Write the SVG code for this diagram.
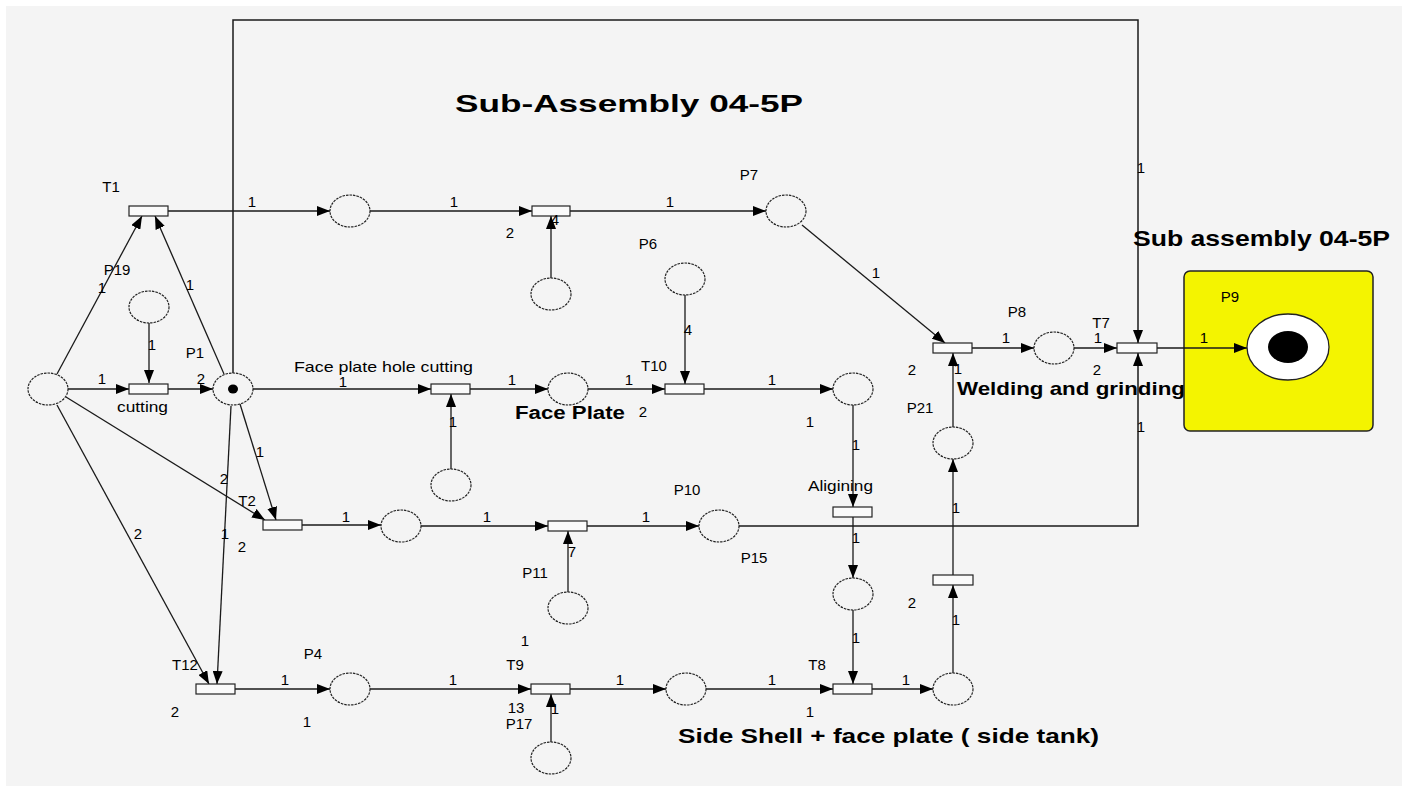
<svg xmlns="http://www.w3.org/2000/svg" width="1411" height="786" viewBox="0 0 1411 786">
<defs>
<marker id="ah" markerUnits="userSpaceOnUse" markerWidth="13" markerHeight="10" refX="13" refY="5" orient="auto"><path d="M0,0 L13,5 L0,10 z" fill="#000"/></marker>
<style>
.pl{fill:none;stroke:#222;stroke-width:1.2;stroke-dasharray:2.5 1}
.tr{fill:#fafafa;stroke:#222;stroke-width:1.2}
.arc{fill:none;stroke:#1a1a1a;stroke-width:1.3;marker-end:url(#ah)}
.ln{fill:none;stroke:#1a1a1a;stroke-width:1.5}
text{font-family:"Liberation Sans",Arial,sans-serif;fill:#000}
.s{font-size:15px;text-anchor:middle}
.r{font-size:15px}
.b{font-weight:bold}
.tok{fill:#000}
</style>
</defs>
<rect width="1411" height="786" fill="#fff"/>
<rect x="6" y="6" width="1396" height="780" fill="#f4f4f4"/>

<g id="output-box"><rect x="1184" y="271" width="189" height="160" rx="6" fill="#f4f400" stroke="#222" stroke-width="1.5"/></g>

<g id="connectors">
<path class="ln" d="M233,373 V20 H1138 V343" marker-end="url(#ah)"/>
<path class="ln" d="M739,526 H1138 V353" marker-end="url(#ah)"/>
<path class="arc" d="M168,211 H330"/>
<path class="arc" d="M370,211 H532"/>
<path class="arc" d="M570,211 H766"/>
<path class="arc" d="M68,389 H129"/>
<path class="arc" d="M168,389 H213"/>
<path class="arc" d="M253,389 H431"/>
<path class="arc" d="M470,389 H548"/>
<path class="arc" d="M588,389 H665"/>
<path class="arc" d="M704,389 H833"/>
<path class="arc" d="M302,525 H381"/>
<path class="arc" d="M421,526 H548"/>
<path class="arc" d="M587,526 H699"/>
<path class="arc" d="M235,689 H330"/>
<path class="arc" d="M370,689 H531"/>
<path class="arc" d="M570,689 H666"/>
<path class="arc" d="M706,689 H833"/>
<path class="arc" d="M872,689 H933"/>
<path class="arc" d="M972,348 H1034"/>
<path class="arc" d="M1074,348 H1117"/>
<path class="arc" d="M1157,348 H1247"/>
<path class="arc" d="M149,323 V383"/>
<path class="arc" d="M551,278 V216"/>
<path class="arc" d="M685,295 V384"/>
<path class="arc" d="M451,469 V394"/>
<path class="arc" d="M853,405 V507"/>
<path class="arc" d="M853,517 V578"/>
<path class="arc" d="M853,610 V684"/>
<path class="arc" d="M568,592 V531"/>
<path class="arc" d="M551,742 V694"/>
<path class="arc" d="M953,673 V585"/>
<path class="arc" d="M953,575 V459"/>
<path class="arc" d="M953,427 V353"/>
<path class="arc" d="M57,374 L142,216"/>
<path class="arc" d="M224,374 L155,216"/>
<path class="arc" d="M240,404 L276,520"/>
<path class="arc" d="M66,397 L265,520"/>
<path class="arc" d="M57,405 L209,684"/>
<path class="arc" d="M231,406 L217,684"/>
<path class="arc" d="M802,225 L945,343"/>
</g>

<g id="P19"><ellipse class="pl" cx="48" cy="389" rx="20" ry="16"/></g>
<g id="P_cut_res"><ellipse class="pl" cx="149" cy="307" rx="20" ry="16"/></g>
<g id="P1"><ellipse class="pl" cx="233" cy="389" rx="20" ry="16"/><ellipse class="tok" cx="233" cy="389" rx="5" ry="4.5"/></g>
<g id="P_r1a"><ellipse class="pl" cx="350" cy="211" rx="20" ry="16"/></g>
<g id="P_r1res"><ellipse class="pl" cx="551" cy="294" rx="20" ry="16"/></g>
<g id="P7"><ellipse class="pl" cx="786" cy="211" rx="20" ry="16"/></g>
<g id="P6"><ellipse class="pl" cx="685" cy="279" rx="20" ry="16"/></g>
<g id="P_faceplate"><ellipse class="pl" cx="568" cy="389" rx="20" ry="16"/></g>
<g id="P_fphc_res"><ellipse class="pl" cx="451" cy="485" rx="20" ry="16"/></g>
<g id="P_r2b"><ellipse class="pl" cx="853" cy="389" rx="20" ry="16"/></g>
<g id="P8"><ellipse class="pl" cx="1054" cy="348" rx="20" ry="16"/></g>
<g id="P9"><ellipse cx="1288" cy="347" rx="41" ry="33" fill="#fff" stroke="#222" stroke-width="1.3"/><ellipse class="tok" cx="1288" cy="347" rx="20" ry="16"/></g>
<g id="P21"><ellipse class="pl" cx="953" cy="443" rx="20" ry="16"/></g>
<g id="P_r3a"><ellipse class="pl" cx="401" cy="526" rx="20" ry="16"/></g>
<g id="P10"><ellipse class="pl" cx="719" cy="526" rx="20" ry="16"/></g>
<g id="P11"><ellipse class="pl" cx="568" cy="608" rx="20" ry="16"/></g>
<g id="P_align_out"><ellipse class="pl" cx="853" cy="594" rx="20" ry="16"/></g>
<g id="P4"><ellipse class="pl" cx="350" cy="689" rx="20" ry="16"/></g>
<g id="P_r4b"><ellipse class="pl" cx="686" cy="689" rx="20" ry="16"/></g>
<g id="P_r4c"><ellipse class="pl" cx="953" cy="689" rx="20" ry="16"/></g>
<g id="P17"><ellipse class="pl" cx="551" cy="758" rx="20" ry="16"/></g>

<g id="T1"><rect class="tr" x="129" y="206" width="39" height="10"/></g>
<g id="T_cutting"><rect class="tr" x="129" y="384" width="39" height="10"/></g>
<g id="T_r1"><rect class="tr" x="532" y="206" width="38" height="10"/></g>
<g id="T_fphc"><rect class="tr" x="431" y="384" width="39" height="10"/></g>
<g id="T10"><rect class="tr" x="665" y="384" width="39" height="10"/></g>
<g id="T_weld"><rect class="tr" x="933" y="343" width="39" height="10"/></g>
<g id="T7"><rect class="tr" x="1117" y="343" width="40" height="10"/></g>
<g id="T2"><rect class="tr" x="263" y="520" width="39" height="10"/></g>
<g id="T_r3"><rect class="tr" x="548" y="521" width="39" height="10"/></g>
<g id="T_align"><rect class="tr" x="833" y="507" width="39" height="10"/></g>
<g id="T_up"><rect class="tr" x="933" y="575" width="40" height="10"/></g>
<g id="T12"><rect class="tr" x="196" y="684" width="39" height="10"/></g>
<g id="T9"><rect class="tr" x="531" y="684" width="39" height="10"/></g>
<g id="T8"><rect class="tr" x="833" y="684" width="39" height="10"/></g>

<g id="labels">
<text class="b" x="455" y="112" font-size="24" textLength="348" lengthAdjust="spacingAndGlyphs">Sub-Assembly 04-5P</text>
<text class="b" x="1133" y="246" font-size="22" textLength="257" lengthAdjust="spacingAndGlyphs">Sub assembly 04-5P</text>
<text class="b" x="957" y="395" font-size="19" textLength="228" lengthAdjust="spacingAndGlyphs">Welding and grinding</text>
<text class="b" x="515" y="419" font-size="18" textLength="110" lengthAdjust="spacingAndGlyphs">Face Plate</text>
<text class="b" x="678" y="743" font-size="21" textLength="421" lengthAdjust="spacingAndGlyphs">Side Shell + face plate ( side tank)</text>
<text class="r" x="294" y="372" textLength="179" lengthAdjust="spacingAndGlyphs">Face plate hole cutting</text>
<text class="r" x="808" y="491" textLength="65" lengthAdjust="spacingAndGlyphs">Aligining</text>
<text class="r" x="117" y="412" textLength="51" lengthAdjust="spacingAndGlyphs">cutting</text>

<text class="s" x="111" y="192">T1</text>
<text class="s" x="117" y="275">P19</text>
<text class="s" x="195" y="358">P1</text>
<text class="s" x="654" y="371">T10</text>
<text class="s" x="648" y="249">P6</text>
<text class="s" x="749" y="180">P7</text>
<text class="s" x="687" y="495">P10</text>
<text class="s" x="754" y="563">P15</text>
<text class="s" x="817" y="670">T8</text>
<text class="s" x="920" y="413">P21</text>
<text class="s" x="1017" y="317">P8</text>
<text class="s" x="1101" y="328">T7</text>
<text class="s" x="1230" y="302">P9</text>
<text class="s" x="247" y="506">T2</text>
<text class="s" x="185" y="670">T12</text>
<text class="s" x="313" y="659">P4</text>
<text class="s" x="515" y="670">T9</text>
<text class="s" x="516" y="713">13</text>
<text class="s" x="519" y="729">P17</text>
<text class="s" x="535" y="578">P11</text>

<text class="s" x="252" y="207">1</text>
<text class="s" x="454" y="207">1</text>
<text class="s" x="670" y="207">1</text>
<text class="s" x="510" y="238">2</text>
<text class="s" x="555" y="225">4</text>
<text class="s" x="102" y="293">1</text>
<text class="s" x="190" y="290">1</text>
<text class="s" x="152" y="350">1</text>
<text class="s" x="102" y="384">1</text>
<text class="s" x="201" y="384">2</text>
<text class="s" x="343" y="387">1</text>
<text class="s" x="453" y="427">1</text>
<text class="s" x="512" y="385">1</text>
<text class="s" x="629" y="385">1</text>
<text class="s" x="643" y="417">2</text>
<text class="s" x="688" y="335">4</text>
<text class="s" x="772" y="385">1</text>
<text class="s" x="876" y="278">1</text>
<text class="s" x="810" y="427">1</text>
<text class="s" x="856" y="450">1</text>
<text class="s" x="856" y="543">1</text>
<text class="s" x="856" y="643">1</text>
<text class="s" x="772" y="685">1</text>
<text class="s" x="810" y="717">1</text>
<text class="s" x="906" y="685">1</text>
<text class="s" x="912" y="608">2</text>
<text class="s" x="956" y="625">1</text>
<text class="s" x="956" y="513">1</text>
<text class="s" x="912" y="375">2</text>
<text class="s" x="958" y="374">1</text>
<text class="s" x="1006" y="343">1</text>
<text class="s" x="1098" y="343">1</text>
<text class="s" x="1097" y="375">2</text>
<text class="s" x="1204" y="343">1</text>
<text class="s" x="1141" y="173">1</text>
<text class="s" x="1141" y="432">1</text>
<text class="s" x="260" y="457">1</text>
<text class="s" x="224" y="484">2</text>
<text class="s" x="225" y="539">1</text>
<text class="s" x="242" y="552">2</text>
<text class="s" x="138" y="539">2</text>
<text class="s" x="175" y="717">2</text>
<text class="s" x="285" y="685">1</text>
<text class="s" x="307" y="727">1</text>
<text class="s" x="453" y="685">1</text>
<text class="s" x="525" y="646">1</text>
<text class="s" x="555" y="714">1</text>
<text class="s" x="346" y="522">1</text>
<text class="s" x="487" y="522">1</text>
<text class="s" x="646" y="522">1</text>
<text class="s" x="572" y="557">7</text>
<text class="s" x="620" y="685">1</text>
</g>
</svg>
